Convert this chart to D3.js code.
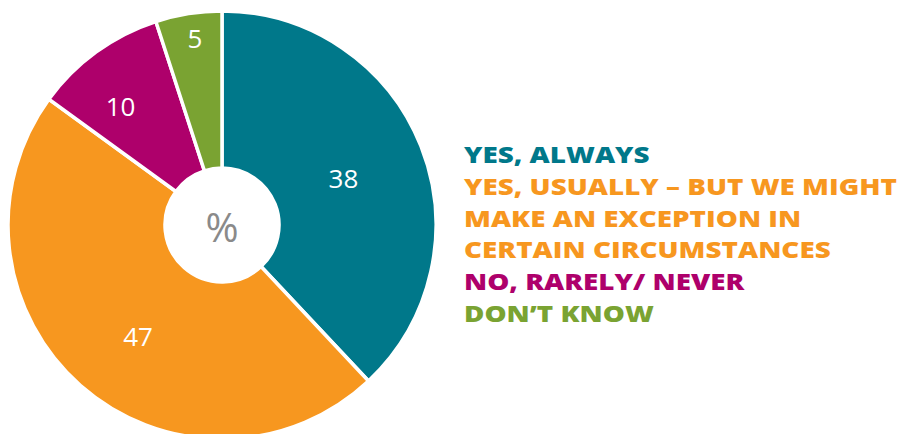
<!DOCTYPE html>
<html><head><meta charset="utf-8">
<script src="https://cdn.jsdelivr.net/npm/d3@7"></script>
<style>html,body{margin:0;padding:0;background:#fff;}svg{display:block;}</style>
</head><body>
<svg id="c" width="901" height="434"></svg>
<script>
const categories = ["YES, ALWAYS", "YES, USUALLY – BUT WE MIGHT MAKE AN EXCEPTION IN CERTAIN CIRCUMSTANCES", "NO, RARELY/ NEVER", "DON’T KNOW"];
const values = [38, 47, 10, 5];
const legendLines = [["YES, ALWAYS"], ["YES, USUALLY – BUT WE MIGHT", "MAKE AN EXCEPTION IN", "CERTAIN CIRCUMSTANCES"], ["NO, RARELY/ NEVER"], ["DON’T KNOW"]];
const colors = ["#00788A", "#F7971F", "#AE006B", "#7AA332"];

const svg = d3.select("#c");
const cx = 222, cy = 225, R = 214, r0 = 57;
const g = svg.append("g").attr("transform", `translate(${cx},${cy})`);
const pie = d3.pie().sort(null).value(d => d)(values);
const arc = d3.arc().innerRadius(r0).outerRadius(R);
g.selectAll("path").data(pie).join("path")
  .attr("d", arc).attr("fill", (d, i) => colors[i])
  .attr("stroke", "#fff").attr("stroke-width", 3.5).attr("stroke-linejoin", "miter");

// label placement: radius grows for thin slices, small angular nudges
const labelR = v => v < 8 ? 188 : v < 20 ? 156 : v > 45 ? 140 : 130;
const labelNudge = d => (d.index === 1 || d.index === 2) ? -0.08 : 0.012;
g.selectAll("text.v").data(pie).join("text").attr("class", "v")
  .attr("transform", d => {
    const a = (d.startAngle + d.endAngle) / 2 + labelNudge(d), rr = labelR(d.data);
    return `translate(${rr * Math.sin(a)},${-rr * Math.cos(a)})`;
  })
  .attr("text-anchor", "middle").attr("dy", "0.36em")
  .attr("font-family", "'Open Sans', sans-serif").attr("font-size", 26).attr("fill", "#fff")
  .text(d => d.data);
g.append("text").attr("text-anchor", "middle").attr("dy", "0.36em").attr("y", 3)
  .attr("font-family", "'Open Sans', sans-serif").attr("font-size", 40).attr("fill", "#8a8a8a").text("%");

const leg = svg.append("g").attr("transform", "translate(464,163)");
const legInner = leg.append("g");
let line = 0;
legendLines.forEach((ls, i) => {
  ls.forEach(t => {
    legInner.append("text").attr("x", 0).attr("y", line * 31.8)
      .attr("font-family", "'Open Sans', sans-serif").attr("font-weight", 800)
      .attr("font-size", 23.5).attr("fill", colors[i]).text(t);
    line++;
  });
});
const wMax = d3.max(legInner.selectAll("text").nodes(), n => n.getComputedTextLength());
legInner.attr("transform", `scale(${433 / wMax},1)`);
</script>
</body></html>
